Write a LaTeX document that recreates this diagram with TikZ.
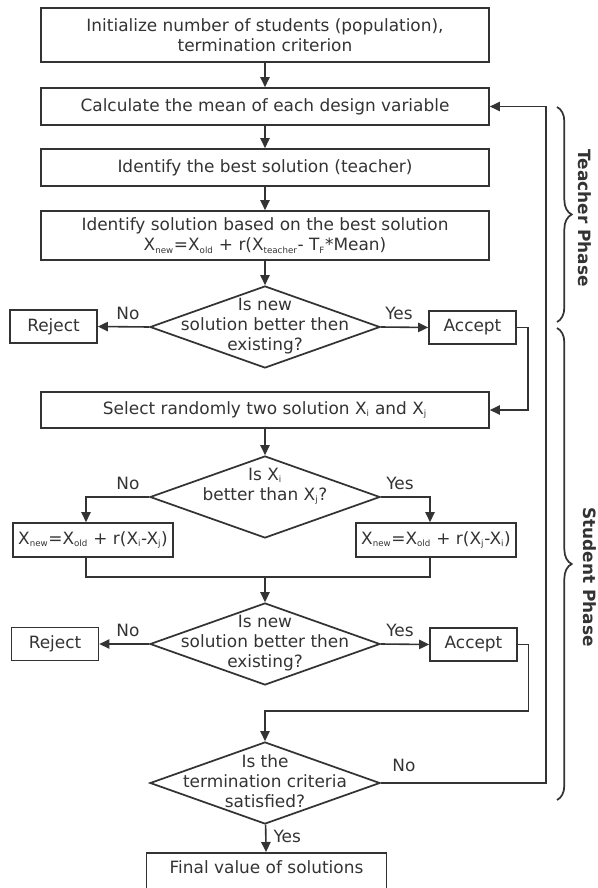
\documentclass[tikz,border=0pt]{standalone}
\usepackage{fontspec}
\setmainfont{DejaVu Sans}
\usetikzlibrary{shapes.geometric, arrows.meta, decorations.pathreplacing}
\definecolor{ink}{HTML}{333333}
\newcommand{\idx}[1]{\textsubscript{\fontsize{6.5}{7}\selectfont #1}}

\begin{document}
\begin{tikzpicture}[x=0.75pt, y=-0.75pt,
    font=\fontsize{12.7}{15}\selectfont, text=ink,
    stepbox/.style={rectangle, draw=ink, line width=1.3pt, minimum width=336pt, align=center, inner sep=0pt},
    smallbox/.style={rectangle, draw=ink, line width=1.3pt, minimum width=65.25pt, minimum height=24.75pt, inner sep=0pt},
    xbox/.style={rectangle, draw=ink, line width=1.3pt, minimum width=120pt, minimum height=25.5pt, inner sep=0pt},
    decision/.style={diamond, draw=ink, line width=1.3pt, minimum width=172.5pt, minimum height=61.5pt, inner sep=0pt},
    dtext/.style={align=center, inner sep=0pt},
    lbl/.style={inner sep=1pt},
    flow/.style={draw=ink, line width=1.2pt, -{Triangle[length=7.5pt,width=7pt]}},
    link/.style={draw=ink, line width=1.2pt},
    phase/.style={font=\fontsize{12.7}{15}\selectfont\bfseries, rotate=-90},
    bracket/.style={draw=ink, decorate, decoration={brace, amplitude=11pt}, line width=1.3pt}]
    \useasboundingbox (0,0) rectangle (597,888);

    % teacher phase
    \node[stepbox, minimum height=40.5pt] (init) at (265,35) {Initialize number of students (population),\\termination criterion};
    \node[stepbox, minimum height=27.75pt] (mean) at (265,106.5) {Calculate the mean of each design variable};
    \node[stepbox, minimum height=27.75pt] (best) at (265,167.5) {Identify the best solution (teacher)};
    \node[stepbox, minimum height=36.75pt] (teach) at (265,235.5) {Identify solution based on the best solution\\X\idx{new}=X\idx{old} + r(X\idx{teacher}- T\idx{F}*Mean)};
    \node[decision] (d1) at (265,327) {};
    \node[dtext] (d1t) at (265,326.5) {Is new\\solution better then\\existing?};
    \node[smallbox] (rej1) at (53.5,326.5) {Reject};
    \node[smallbox] (acc1) at (472.5,327.5) {Accept};
    \node[lbl] (no1) at (128,313) {No};
    \node[lbl] (yes1) at (399,313) {Yes};

    % student phase
    \node[stepbox, minimum height=27pt] (sel) at (265,410) {Select randomly two solution X\idx{i} and X\idx{j}};
    \node[decision] (d2) at (265,497) {};
    \node[dtext] (d2t) at (265,486) {Is X\idx{i}\\better than X\idx{j}?};
    \node[lbl] (no2) at (128,483) {No};
    \node[lbl] (yes2) at (400,483) {Yes};
    \node[xbox] (xl) at (93,540) {X\idx{new}=X\idx{old} + r(X\idx{i}-X\idx{j})};
    \node[xbox] (xr) at (436,540) {X\idx{new}=X\idx{old} + r(X\idx{j}-X\idx{i})};
    \coordinate (join) at (265,577);
    \node[decision] (d3) at (265,644) {};
    \node[dtext] (d3t) at (265,643) {Is new\\solution better then\\existing?};
    \node[smallbox] (rej2) at (55,644) {Reject};
    \node[smallbox] (acc2) at (473.5,644.5) {Accept};
    \node[lbl] (no3) at (128,630) {No};
    \node[lbl] (yes3) at (400,630) {Yes};
    \coordinate (back) at (265,711);
    \node[decision] (d4) at (265,783) {};
    \node[dtext] (d4t) at (265,781) {Is the\\termination criteria\\satisfied?};
    \node[lbl] (no4) at (404,765) {No};
    \coordinate (loop) at (546,783);
    \node[stepbox, minimum width=180pt, anchor=north, inner ysep=6pt, text depth=22pt] (final) at (266.5,852) {Final value of solutions};
    \node[lbl, anchor=west] (yes4) at (272,836) {Yes};

    % connectors
    \draw[flow] (init) -- (mean);
    \draw[flow] (mean) -- (best);
    \draw[flow] (best) -- (teach);
    \draw[flow] (teach) -- (d1);
    \draw[flow] (d1.west) -- (rej1.east);
    \draw[flow] (d1.east) -- (acc1.west);
    \draw[flow] (acc1.east) -- ++(11,0) |- (sel.east);
    \draw[flow] (sel) -- (d2);
    \draw[flow] (d2.west) -| ([xshift=-5.25pt]xl.north);
    \draw[flow] (d2.east) -| ([xshift=-4.5pt]xr.north);
    \draw[link] ([xshift=-5.25pt]xl.south) |- (join) -| ([xshift=-4.5pt]xr.south);
    \draw[flow] (join) -- (d3);
    \draw[flow] (d3.west) -- (rej2.east);
    \draw[flow] (d3.east) -- (acc2.west);
    \draw[flow] (acc2.east) -- ++(10.5,0) |- (back) -- (d4);
    \draw[flow] (d4.east) -- (loop) |- (mean.east);
    \draw[flow] (d4) -- (final);

    % phases
    \draw[bracket] (557,107) -- (557,322);
    \draw[bracket] (557,328) -- (557,800);
    \node[phase] (tp) at (585,218) {Teacher Phase};
    \node[phase] (sp) at (590,577) {Student Phase};
\end{tikzpicture}
\end{document}
